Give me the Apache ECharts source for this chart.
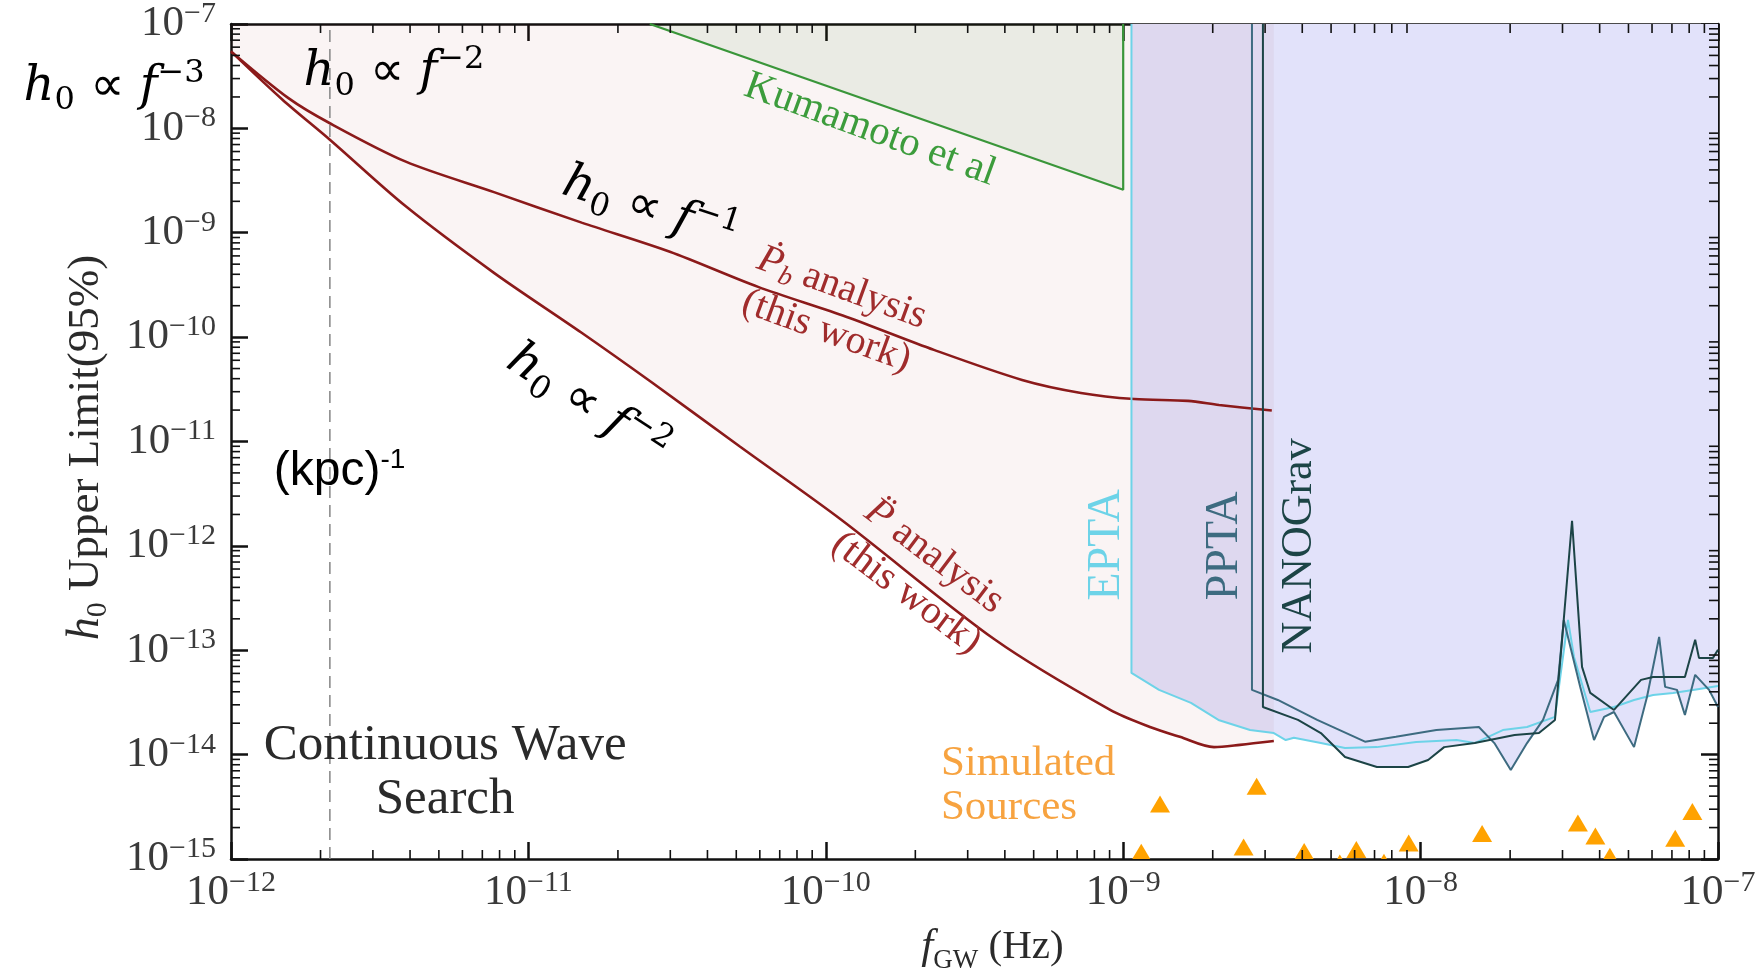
<!DOCTYPE html>
<html>
<head>
<meta charset="utf-8">
<title>Continuous-wave upper limits on h0</title>
<script src="https://cdn.jsdelivr.net/npm/echarts@6/dist/echarts.min.js"></script>
<style>
  html, body { margin: 0; padding: 0; background: #ffffff; }
  #chart { width: 1757px; height: 974px; }
</style>
</head>
<body>
<div id="chart"></div>
<script>
// ---------------------------------------------------------------------------
// Axis decades (tick labels are 10^n)
// ---------------------------------------------------------------------------
const xDecades = [-12, -11, -10, -9, -8, -7];
const yDecades = [-15, -14, -13, -12, -11, -10, -9, -8, -7];

// ---------------------------------------------------------------------------
// Upper limits: frequency f_GW [Hz] and strain amplitude h0
// ---------------------------------------------------------------------------
// Pb-dot analysis (this work)
const pbDotFreq = [1.0e-12, 1.56e-12, 2.15e-12, 3.87e-12, 7.66e-12, 1.51e-11, 2.99e-11, 5.92e-11,
                   1.17e-10, 2.31e-10, 4.57e-10, 7.21e-10, 1.09e-9, 1.65e-9, 2.10e-9, 3.16e-9];
const pbDotH    = [5.46e-8, 1.95e-8, 1.12e-8, 4.8e-9, 2.45e-9, 1.25e-9, 6.58e-10, 3.03e-10,
                   1.57e-10, 7.55e-11, 3.89e-11, 2.92e-11, 2.55e-11, 2.45e-11, 2.24e-11, 1.98e-11];

// P-double-dot analysis (this work)
const pDDotFreq = [1.0e-12, 1.49e-12, 2.15e-12, 3.87e-12, 7.66e-12, 1.51e-11, 2.61e-11, 5.14e-11,
                   1.13e-10, 3.71e-10, 9.04e-10, 1.23e-9, 1.55e-9, 2.02e-9, 2.47e-9, 3.21e-9];
const pDDotH    = [5.46e-8, 1.88e-8, 7.78e-9, 1.79e-9, 4.13e-10, 1.10e-10, 3.65e-11, 8.95e-12,
                   1.77e-12, 1.26e-13, 2.68e-14, 1.84e-14, 1.48e-14, 1.18e-14, 1.24e-14, 1.35e-14];

// Kumamoto et al excluded wedge
const kumamotoFreq = [2.56e-11, 1.0e-9, 1.0e-9];
const kumamotoH    = [1.0e-7, 2.58e-9, 1.0e-7];

// EPTA
const eptaFreq = [1.066e-9, 1.066e-9, 1.32e-9, 1.69e-9, 2.09e-9, 2.67e-9, 3.21e-9, 3.52e-9, 3.75e-9,
                  4.62e-9, 5.57e-9, 7.13e-9, 9.66e-9, 1.32e-8, 1.52e-8, 1.89e-8, 2.28e-8, 2.83e-8,
                  2.94e-8, 3.13e-8, 3.28e-8, 3.72e-8, 4.47e-8, 5.22e-8, 6.05e-8, 7.06e-8, 8.24e-8, 1.0e-7];
const eptaH    = [1.0e-7, 6.07e-14, 4.17e-14, 3.13e-14, 2.15e-14, 1.72e-14, 1.61e-14, 1.38e-14, 1.45e-14,
                  1.29e-14, 1.16e-14, 1.18e-14, 1.32e-14, 1.38e-14, 1.29e-14, 1.72e-14, 1.84e-14, 2.30e-14,
                  5.20e-14, 1.95e-13, 8.63e-14, 2.56e-14, 2.86e-14, 3.34e-14, 3.73e-14, 3.90e-14, 4.17e-14, 4.55e-14];

// PPTA
const pptaFreq = [2.71e-9, 2.71e-9, 3.31e-9, 4.49e-9, 6.50e-9, 8.26e-9, 1.13e-8, 1.57e-8, 1.77e-8,
                  2.01e-8, 2.28e-8, 2.58e-8, 2.90e-8, 3.03e-8, 3.44e-8, 3.83e-8, 4.14e-8, 4.47e-8,
                  5.22e-8, 5.77e-8, 6.34e-8, 6.64e-8, 7.28e-8, 7.74e-8, 8.38e-8, 9.33e-8, 1.0e-7];
const pptaH    = [1.0e-7, 4.17e-14, 3.34e-14, 2.15e-14, 1.33e-14, 1.48e-14, 1.72e-14, 1.84e-14, 1.29e-14,
                  7.11e-15, 1.29e-14, 2.15e-14, 5.20e-14, 1.95e-13, 4.46e-14, 1.38e-14, 2.30e-14, 2.56e-14,
                  1.18e-14, 3.57e-14, 1.34e-13, 4.46e-14, 4.17e-14, 2.40e-14, 5.81e-14, 4.17e-14, 2.86e-14];

// NANOGrav
const nanogravFreq = [2.95e-9, 2.95e-9, 3.87e-9, 4.62e-9, 5.57e-9, 7.13e-9, 9.08e-9, 1.06e-8, 1.20e-8,
                      1.52e-8, 2.07e-8, 2.50e-8, 2.83e-8, 2.99e-8, 3.23e-8, 3.49e-8, 3.72e-8, 4.47e-8,
                      5.51e-8, 6.05e-8, 6.64e-8, 7.74e-8, 8.38e-8, 8.63e-8, 9.62e-8, 1.0e-7];
const nanogravH    = [1.0e-7, 2.86e-14, 2.15e-14, 1.61e-14, 9.48e-15, 7.60e-15, 7.60e-15, 8.87e-15, 1.18e-14,
                      1.29e-14, 1.54e-14, 1.61e-14, 2.15e-14, 1.26e-13, 1.74e-12, 6.93e-14, 3.90e-14, 2.68e-14,
                      5.20e-14, 5.55e-14, 5.55e-14, 5.55e-14, 1.26e-13, 8.45e-14, 8.45e-14, 1.01e-13];

// Simulated sources
const simFreq = [1.15e-9, 1.33e-9, 2.54e-9, 2.81e-9, 4.06e-9, 5.35e-9, 6.08e-9, 7.53e-9,
                 9.12e-9, 1.61e-8, 3.38e-8, 3.87e-8, 4.33e-8, 7.18e-8, 8.20e-8];
const simH    = [1.15e-15, 3.33e-15, 1.29e-15, 4.93e-15, 1.17e-15, 9.06e-16, 1.22e-15, 9.2e-16,
                 1.41e-15, 1.74e-15, 2.19e-15, 1.64e-15, 1.05e-15, 1.56e-15, 2.82e-15];

// Inverse-kpc reference frequency
const kpcFreq = 2.15e-12;

// ---------------------------------------------------------------------------
// Helpers and styling
// ---------------------------------------------------------------------------
const pow10 = e => Math.pow(10, e);
const pairs = (xs, ys) => xs.map((x, i) => [x, ys[i]]);
const X_MIN = pow10(xDecades[0]), X_MAX = pow10(xDecades[xDecades.length - 1]);
const Y_MIN = pow10(yDecades[0]), Y_MAX = pow10(yDecades[yDecades.length - 1]);

const SERIF = '"Liberation Serif", "DejaVu Serif", serif';
const MATH = '"DejaVu Serif", serif';
const MATH_SYM = '"DejaVu Sans", sans-serif';
const SANS = '"Liberation Sans", Arial, sans-serif';
const INK = '#111111';
const LABEL_INK = '#3a3a3a';
const TITLE_INK = '#2a2a2a';
const MINOR_LEN = 9;
const CURVE_SMOOTH = 0.3;

const RED = '#8b1a1a';
const EPTA_C = '#6dd3e8';
const PPTA_C = '#3d6b80';
const NANO_C = '#1c4446';
const PTA_FILL = '#e2e2fa';

function minorTickValues(decades) {
  const out = [];
  for (let i = 0; i < decades.length - 1; i++) {
    for (let m = 2; m <= 9; m++) out.push(m * pow10(decades[i]));
  }
  return out;
}

function expLabel(v) {
  const e = Math.round(Math.log10(v));
  return '{b|10}{s|' + (e < 0 ? '\u2212' : '') + Math.abs(e) + '}';
}

const tickRich = {
  b: { fontFamily: SERIF, fontSize: 43, lineHeight: 44, color: LABEL_INK, verticalAlign: 'middle' },
  s: { fontFamily: SERIF, fontSize: 30, height: 24, lineHeight: 24, color: LABEL_INK, verticalAlign: 'top' }
};

function frameAxis(extra) {
  return Object.assign({
    type: 'log',
    logBase: 10,
    axisLine: { show: true, onZero: false, lineStyle: { color: INK, width: 2.5 } },
    axisTick: { show: true, inside: true, length: 17, lineStyle: { color: INK, width: 2.5 } },
    minorTick: { show: false },
    splitLine: { show: false },
    axisLabel: { show: false },
    nameMoveOverlap: false
  }, extra);
}

// Short inward minor ticks on all four sides of the frame
function minorTickSeries(axisDim) {
  const values = minorTickValues(axisDim === 'x' ? xDecades : yDecades);
  return {
    type: 'custom',
    silent: true,
    z: 20,
    data: values.map(v => axisDim === 'x' ? [v, Y_MIN] : [X_MIN, v]),
    renderItem: (params, api) => {
      const cs = params.coordSys;
      const st = { stroke: INK, lineWidth: 1.6 };
      if (axisDim === 'x') {
        const x = api.coord([api.value(0), Y_MIN])[0];
        const yb = cs.y + cs.height, yt = cs.y;
        return { type: 'group', children: [
          { type: 'line', shape: { x1: x, y1: yb, x2: x, y2: yb - MINOR_LEN }, style: st },
          { type: 'line', shape: { x1: x, y1: yt, x2: x, y2: yt + MINOR_LEN }, style: st }
        ] };
      }
      const y = api.coord([X_MIN, api.value(1)])[1];
      const xl = cs.x, xr = cs.x + cs.width;
      return { type: 'group', children: [
        { type: 'line', shape: { x1: xl, y1: y, x2: xl + MINOR_LEN, y2: y }, style: st },
        { type: 'line', shape: { x1: xr, y1: y, x2: xr - MINOR_LEN, y2: y }, style: st }
      ] };
    }
  };
}

function ptaFill(xs, ys) {
  return {
    type: 'line', silent: true, z: 1, symbol: 'none',
    data: pairs(xs, ys),
    lineStyle: { width: 0, opacity: 0 },
    areaStyle: { origin: 'end', color: PTA_FILL, opacity: 1 }
  };
}

function ptaLine(xs, ys, color) {
  return {
    type: 'line', silent: true, z: 4, symbol: 'none',
    data: pairs(xs, ys),
    lineStyle: { color: color, width: 2 }
  };
}

// ---------------------------------------------------------------------------
// Chart
// ---------------------------------------------------------------------------
const chart = echarts.init(document.getElementById('chart'), null, { renderer: 'canvas', width: 1757, height: 974 });

const option = {
  animation: false,
  backgroundColor: '#ffffff',
  grid: { left: 231, right: 39, top: 24, bottom: 115, containLabel: false, outerBoundsMode: 'none' },
  xAxis: [
    frameAxis({
      position: 'bottom', min: X_MIN, max: X_MAX, splitNumber: 5,
      axisLabel: { show: true, margin: 12, formatter: expLabel, rich: tickRich, showMinLabel: true, showMaxLabel: true },
      name: '{fi|f}{fs|GW}{fr| (Hz)}',
      nameLocation: 'middle',
      nameGap: 60,
      nameTextStyle: {
        color: TITLE_INK,
        padding: [0, 0, 0, 36],
        rich: {
          fi: { fontFamily: SERIF, fontStyle: 'italic', fontSize: 43, lineHeight: 56, verticalAlign: 'middle', color: TITLE_INK },
          fs: { fontFamily: SERIF, fontSize: 27, height: 29, verticalAlign: 'bottom', color: TITLE_INK },
          fr: { fontFamily: SERIF, fontSize: 41, lineHeight: 56, verticalAlign: 'middle', color: TITLE_INK }
        }
      }
    }),
    frameAxis({ position: 'top', min: X_MIN, max: X_MAX, splitNumber: 5 })
  ],
  yAxis: [
    frameAxis({
      position: 'left', min: Y_MIN, max: Y_MAX, splitNumber: 8,
      axisLabel: { show: true, margin: 15, formatter: expLabel, rich: tickRich, showMinLabel: true, showMaxLabel: true },
      name: '{hi|h}{hs|0}{hr| Upper Limit(95%)}',
      nameLocation: 'middle',
      nameGap: 118,
      nameTextStyle: {
        color: TITLE_INK,
        padding: [0, 12, 0, 0],
        rich: {
          hi: { fontFamily: SERIF, fontStyle: 'italic', fontSize: 46, lineHeight: 54, verticalAlign: 'middle', color: TITLE_INK },
          hs: { fontFamily: SERIF, fontSize: 30, height: 29, verticalAlign: 'bottom', color: TITLE_INK },
          hr: { fontFamily: SERIF, fontSize: 45, lineHeight: 54, verticalAlign: 'middle', color: TITLE_INK }
        }
      }
    }),
    frameAxis({ position: 'right', min: Y_MIN, max: Y_MAX, splitNumber: 8 })
  ],
  series: [
    // pulsar-timing-array excluded regions (union of the three limits)
    ptaFill(eptaFreq, eptaH),
    ptaFill(pptaFreq, pptaH),
    ptaFill(nanogravFreq, nanogravH),

    // region excluded by this work, bounded below by the P-double-dot limit
    {
      type: 'line', silent: true, z: 2, symbol: 'none', smooth: CURVE_SMOOTH,
      data: pairs(pDDotFreq, pDDotH),
      lineStyle: { color: RED, width: 2.6 },
      areaStyle: { origin: 'end', color: 'rgba(139, 0, 0, 0.06)' }
    },

    // Kumamoto et al wedge
    {
      type: 'line', silent: true, z: 3, symbol: 'none',
      data: pairs(kumamotoFreq, kumamotoH),
      lineStyle: { color: '#3a963a', width: 2.2 },
      areaStyle: { origin: 'end', color: 'rgba(0, 110, 0, 0.09)' }
    },

    // Pb-dot limit
    {
      type: 'line', silent: true, z: 4, symbol: 'none', smooth: CURVE_SMOOTH,
      data: pairs(pbDotFreq, pbDotH),
      lineStyle: { color: RED, width: 2.6 }
    },

    ptaLine(eptaFreq, eptaH, EPTA_C),
    ptaLine(pptaFreq, pptaH, PPTA_C),
    ptaLine(nanogravFreq, nanogravH, NANO_C),

    // (kpc)^-1 reference line
    {
      type: 'line', silent: true, z: 4, symbol: 'none',
      data: [[kpcFreq, Y_MIN], [kpcFreq, Y_MAX]],
      lineStyle: { color: '#8c8c8c', width: 1.6, type: [12, 7] }
    },

    // simulated sources (clipped at the frame)
    {
      type: 'custom', silent: true, z: 5, clip: true,
      data: pairs(simFreq, simH),
      renderItem: (params, api) => {
        const p = api.coord([api.value(0), api.value(1)]);
        return {
          type: 'polygon',
          shape: { points: [[p[0], p[1] - 9], [p[0] - 10, p[1] + 8], [p[0] + 10, p[1] + 8]] },
          style: { fill: '#ffa200' }
        };
      }
    },

    minorTickSeries('x'),
    minorTickSeries('y')
  ]
};

chart.setOption(option);

// ---------------------------------------------------------------------------
// Annotations, anchored in data space: at = [log10 f, log10 h]
// ---------------------------------------------------------------------------
const mathRich = {
  i: { fontFamily: MATH, fontStyle: 'italic', fontSize: 48, lineHeight: 58, verticalAlign: 'middle' },
  r: { fontFamily: MATH_SYM, fontSize: 48, lineHeight: 58, verticalAlign: 'middle' },
  sb: { fontFamily: MATH, fontSize: 32, height: 31, verticalAlign: 'bottom' },
  sp: { fontFamily: MATH, fontSize: 32, height: 31, verticalAlign: 'top' }
};
const proseRich = {
  t: { fontFamily: SERIF, fontSize: 40, lineHeight: 46, verticalAlign: 'middle' },
  pi: { fontFamily: SERIF, fontStyle: 'italic', fontSize: 40, lineHeight: 46, verticalAlign: 'middle' },
  pb: { fontFamily: SERIF, fontStyle: 'italic', fontSize: 27, height: 27, verticalAlign: 'bottom' }
};
const labelRich = size => ({ t: { fontFamily: SERIF, fontSize: size, lineHeight: size + 4, verticalAlign: 'middle' } });
const sansRich = {
  t: { fontFamily: SANS, fontSize: 48, lineHeight: 52, verticalAlign: 'middle' },
  sp: { fontFamily: SANS, fontSize: 28, height: 28, verticalAlign: 'top' }
};

const annotations = [
  { at: [-12.393, -7.605], rot: 0, color: '#000', rich: mathRich, text: '{i|h}{sb|0}{r| \u221D }{i|f}{sp|\u22123}' },
  { at: [-11.452, -7.467], rot: 0, color: '#000', rich: mathRich, text: '{i|h}{sb|0}{r| \u221D }{i|f}{sp|\u22122}' },
  { at: [-10.591, -8.777], rot: -18, color: '#000', rich: mathRich, text: '{i|h}{sb|0}{r| \u221D }{i|f}{sp|\u22121}' },
  { at: [-10.803, -10.649], rot: -33, color: '#000', rich: mathRich, text: '{i|h}{sb|0}{r| \u221D }{i|f}{sp|\u22122}' },
  { at: [-9.972, -9.738], rot: -20, color: '#a02c2c', rich: proseRich, text: '{pi|\u1E56}{pb|b}{t| analysis}\n{t|(this work)}' },
  { at: [-9.683, -12.278], rot: -37, color: '#a02c2c', rich: proseRich, text: '{pi|P\u0308}{t| analysis}\n{t|(this work)}' },
  { at: [-11.635, -11.291], rot: 0, color: '#000', rich: sansRich, text: '{t|(kpc)}{sp|-1}' },
  { at: [-9.851, -8.013], rot: -20, color: '#3c9c3c', rich: labelRich(41), text: '{t|Kumamoto et al}' },
  { at: [-9.054, -11.990], rot: 90, color: EPTA_C, rich: labelRich(46), text: '{t|EPTA}' },
  { at: [-8.658, -12.000], rot: 90, color: PPTA_C, rich: labelRich(46), text: '{t|PPTA}' },
  { at: [-8.409, -12.000], rot: 90, color: NANO_C, rich: labelRich(44), text: '{t|NANOGrav}' },
  { at: [-11.280, -14.176], rot: 0, color: TITLE_INK, rich: { t: { fontFamily: SERIF, fontSize: 51, lineHeight: 54, verticalAlign: 'middle' } }, text: '{t|Continuous Wave}\n{t|Search}' },
  { at: [-9.613, -14.300], rot: 0, color: '#f7a340', align: 'left', rich: { t: { fontFamily: SERIF, fontSize: 43, lineHeight: 44, verticalAlign: 'middle' } }, text: '{t|Simulated}\n{t|Sources}' }
];

const graphics = annotations.map(a => {
  const p = chart.convertToPixel({ xAxisIndex: 0, yAxisIndex: 0 }, [pow10(a.at[0]), pow10(a.at[1])]);
  return {
    type: 'text',
    x: p[0], y: p[1],
    rotation: a.rot * Math.PI / 180,
    z: 100,
    silent: true,
    style: {
      text: a.text,
      rich: a.rich,
      fill: a.color,
      align: a.align || 'center',
      verticalAlign: 'middle'
    }
  };
});

chart.setOption({ graphic: graphics });
</script>
</body>
</html>
